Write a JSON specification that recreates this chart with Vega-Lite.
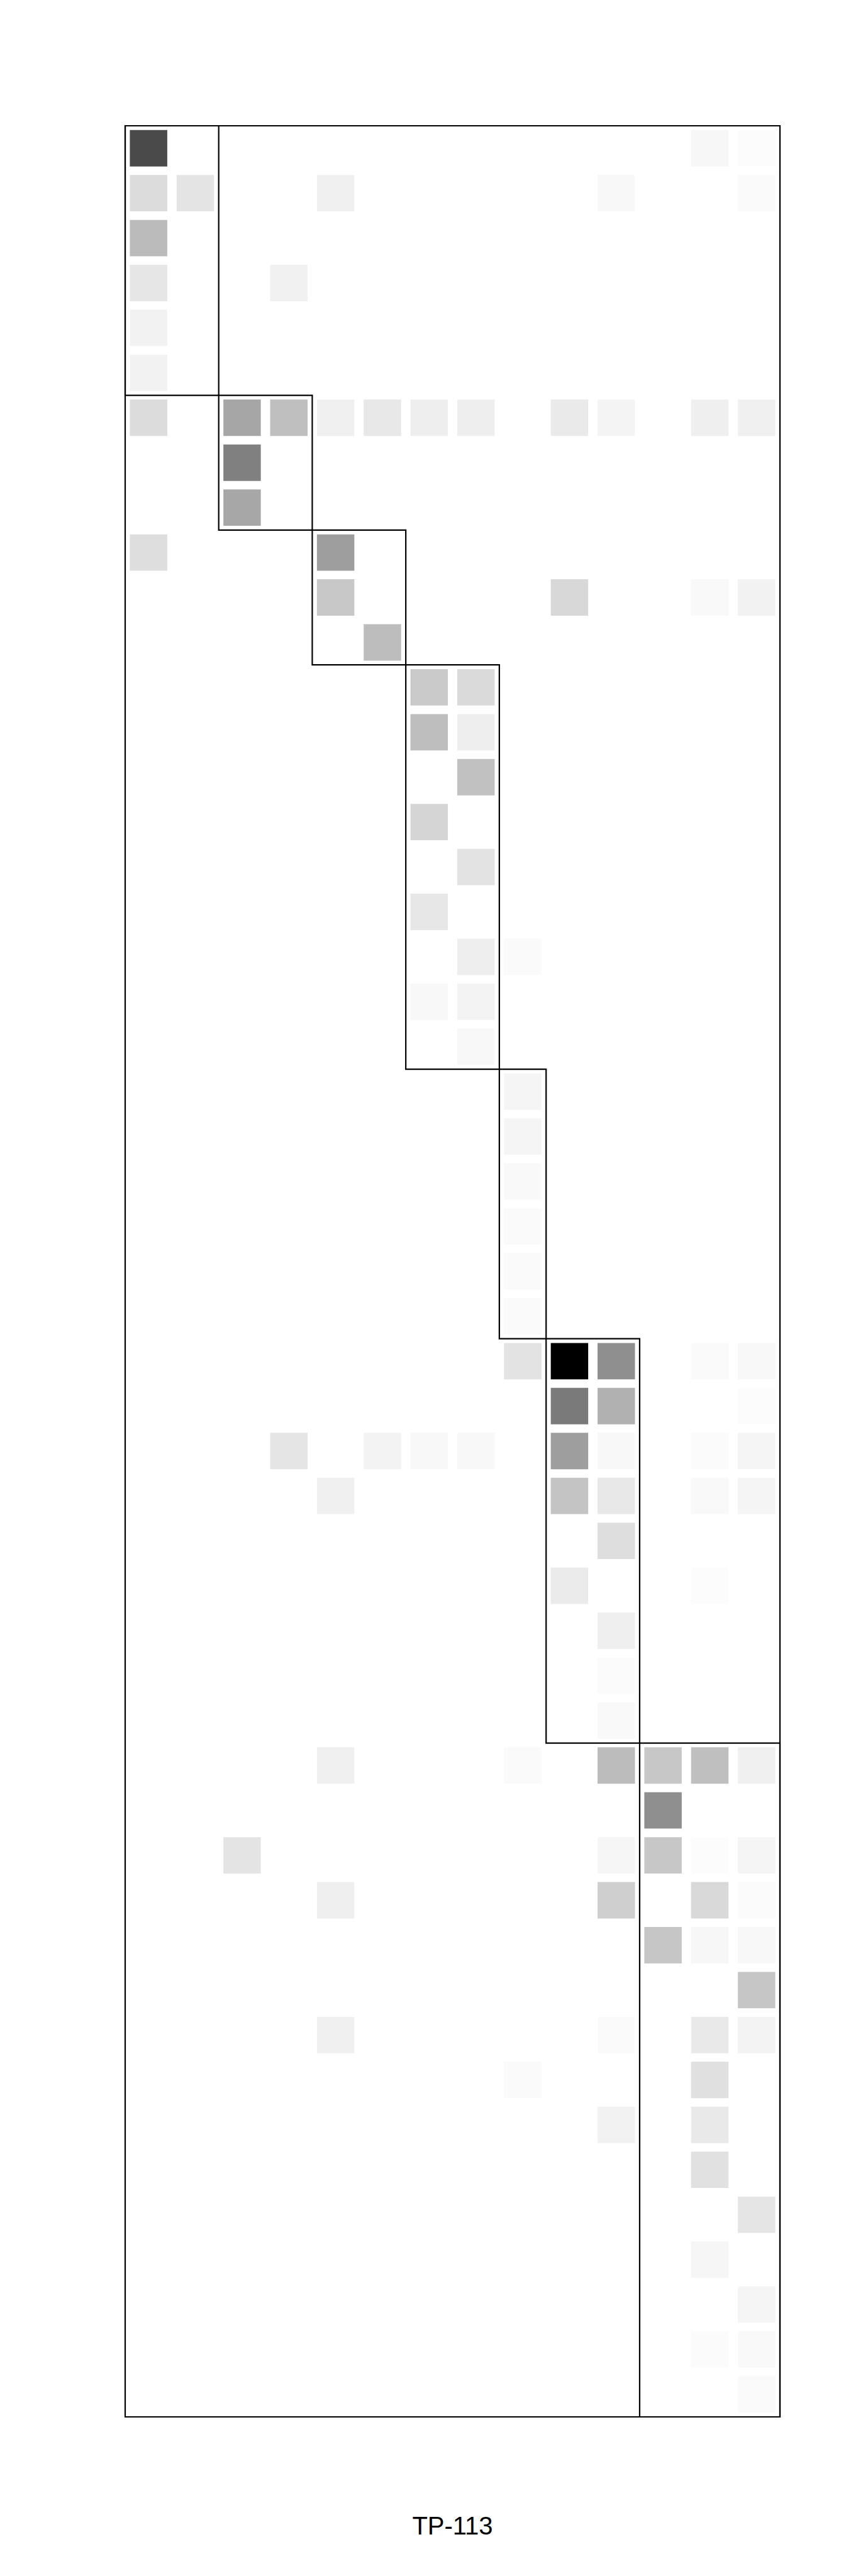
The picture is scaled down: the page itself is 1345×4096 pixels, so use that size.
{
  "$schema": "https://vega.github.io/schema/vega-lite/v6.json",
  "width": 1041,
  "height": 3643,
  "autosize": "none",
  "padding": {"left": 199, "top": 200, "right": 105, "bottom": 253},
  "background": "white",
  "title": {"text": "TP-113", "orient": "bottom", "anchor": "middle", "font": "Liberation Sans", "fontSize": 40, "fontWeight": "normal", "color": "black", "baseline": "alphabetic", "offset": 186},
  "config": {"view": {"stroke": "black", "strokeWidth": 2.2}},
  "resolve": {"scale": {"x": "independent", "y": "independent"}},
  "layer": [
    {
      "data": {"values": [
        {"r":0,"c":0,"v":0.710},{"r":0,"c":12,"v":0.031},{"r":0,"c":13,"v":0.012},
        {"r":1,"c":0,"v":0.137},{"r":1,"c":1,"v":0.106},{"r":1,"c":4,"v":0.059},{"r":1,"c":10,"v":0.027},{"r":1,"c":13,"v":0.020},
        {"r":2,"c":0,"v":0.267},
        {"r":3,"c":0,"v":0.098},{"r":3,"c":3,"v":0.055},
        {"r":4,"c":0,"v":0.051},
        {"r":5,"c":0,"v":0.051},
        {"r":6,"c":0,"v":0.137},{"r":6,"c":2,"v":0.349},{"r":6,"c":3,"v":0.251},{"r":6,"c":4,"v":0.059},{"r":6,"c":5,"v":0.090},{"r":6,"c":6,"v":0.067},{"r":6,"c":7,"v":0.067},{"r":6,"c":9,"v":0.082},{"r":6,"c":10,"v":0.043},{"r":6,"c":12,"v":0.063},{"r":6,"c":13,"v":0.059},
        {"r":7,"c":2,"v":0.498},
        {"r":8,"c":2,"v":0.345},
        {"r":9,"c":0,"v":0.129},{"r":9,"c":4,"v":0.380},
        {"r":10,"c":4,"v":0.216},{"r":10,"c":9,"v":0.153},{"r":10,"c":12,"v":0.024},{"r":10,"c":13,"v":0.051},
        {"r":11,"c":5,"v":0.259},
        {"r":12,"c":6,"v":0.208},{"r":12,"c":7,"v":0.145},
        {"r":13,"c":6,"v":0.255},{"r":13,"c":7,"v":0.067},
        {"r":14,"c":7,"v":0.243},
        {"r":15,"c":6,"v":0.165},
        {"r":16,"c":7,"v":0.110},
        {"r":17,"c":6,"v":0.094},
        {"r":18,"c":7,"v":0.067},{"r":18,"c":8,"v":0.020},
        {"r":19,"c":6,"v":0.027},{"r":19,"c":7,"v":0.047},
        {"r":20,"c":7,"v":0.027},
        {"r":21,"c":8,"v":0.039},
        {"r":22,"c":8,"v":0.039},
        {"r":23,"c":8,"v":0.024},
        {"r":24,"c":8,"v":0.020},
        {"r":25,"c":8,"v":0.020},
        {"r":26,"c":8,"v":0.020},
        {"r":27,"c":8,"v":0.110},{"r":27,"c":9,"v":1.0},{"r":27,"c":10,"v":0.439},{"r":27,"c":12,"v":0.020},{"r":27,"c":13,"v":0.027},
        {"r":28,"c":9,"v":0.522},{"r":28,"c":10,"v":0.306},{"r":28,"c":13,"v":0.012},
        {"r":29,"c":3,"v":0.102},{"r":29,"c":5,"v":0.047},{"r":29,"c":6,"v":0.027},{"r":29,"c":7,"v":0.027},{"r":29,"c":9,"v":0.380},{"r":29,"c":10,"v":0.027},{"r":29,"c":12,"v":0.016},{"r":29,"c":13,"v":0.039},
        {"r":30,"c":4,"v":0.059},{"r":30,"c":9,"v":0.231},{"r":30,"c":10,"v":0.090},{"r":30,"c":12,"v":0.024},{"r":30,"c":13,"v":0.039},
        {"r":31,"c":10,"v":0.129},
        {"r":32,"c":9,"v":0.078},{"r":32,"c":12,"v":0.012},
        {"r":33,"c":10,"v":0.063},
        {"r":34,"c":10,"v":0.016},
        {"r":35,"c":10,"v":0.024},
        {"r":36,"c":4,"v":0.059},{"r":36,"c":8,"v":0.020},{"r":36,"c":10,"v":0.263},{"r":36,"c":11,"v":0.220},{"r":36,"c":12,"v":0.251},{"r":36,"c":13,"v":0.059},
        {"r":37,"c":11,"v":0.439},
        {"r":38,"c":2,"v":0.106},{"r":38,"c":10,"v":0.035},{"r":38,"c":11,"v":0.220},{"r":38,"c":12,"v":0.012},{"r":38,"c":13,"v":0.039},
        {"r":39,"c":4,"v":0.063},{"r":39,"c":10,"v":0.188},{"r":39,"c":12,"v":0.149},{"r":39,"c":13,"v":0.016},
        {"r":40,"c":11,"v":0.224},{"r":40,"c":12,"v":0.031},{"r":40,"c":13,"v":0.027},
        {"r":41,"c":13,"v":0.224},
        {"r":42,"c":4,"v":0.059},{"r":42,"c":10,"v":0.020},{"r":42,"c":12,"v":0.086},{"r":42,"c":13,"v":0.047},
        {"r":43,"c":8,"v":0.020},{"r":43,"c":12,"v":0.122},
        {"r":44,"c":10,"v":0.051},{"r":44,"c":12,"v":0.086},
        {"r":45,"c":12,"v":0.118},
        {"r":46,"c":13,"v":0.102},
        {"r":47,"c":12,"v":0.035},
        {"r":48,"c":13,"v":0.039},
        {"r":49,"c":12,"v":0.016},{"r":49,"c":13,"v":0.024},
        {"r":50,"c":13,"v":0.020}
      ]},
      "mark": {"type": "rect"},
      "encoding": {
        "x": {"field": "c", "type": "ordinal", "axis": null,
              "scale": {"domain": [0,1,2,3,4,5,6,7,8,9,10,11,12,13], "paddingInner": 0.2, "paddingOuter": 0.1}},
        "y": {"field": "r", "type": "ordinal", "axis": null,
              "scale": {"domain": [0,1,2,3,4,5,6,7,8,9,10,11,12,13,14,15,16,17,18,19,20,21,22,23,24,25,26,27,28,29,30,31,32,33,34,35,36,37,38,39,40,41,42,43,44,45,46,47,48,49,50], "paddingInner": 0.19, "paddingOuter": 0.095}},
        "color": {"field": "v", "type": "quantitative", "legend": null,
                  "scale": {"domain": [0, 1], "range": ["#ffffff", "#000000"], "interpolate": "rgb"}}
      }
    },
    {
      "data": {"values": [
        {"x0": 0, "x1": 2, "y0": 0, "y1": 6},
        {"x0": 2, "x1": 4, "y0": 6, "y1": 9},
        {"x0": 4, "x1": 6, "y0": 9, "y1": 12},
        {"x0": 6, "x1": 8, "y0": 12, "y1": 21},
        {"x0": 8, "x1": 9, "y0": 21, "y1": 27},
        {"x0": 9, "x1": 11, "y0": 27, "y1": 36},
        {"x0": 11, "x1": 14, "y0": 36, "y1": 51}
      ]},
      "mark": {"type": "rect", "filled": false, "stroke": "black", "strokeWidth": 2.2},
      "encoding": {
        "x": {"field": "x0", "type": "quantitative", "axis": null, "scale": {"domain": [0, 14], "nice": false, "zero": false}},
        "x2": {"field": "x1"},
        "y": {"field": "y0", "type": "quantitative", "axis": null, "scale": {"domain": [0, 51], "nice": false, "zero": false, "reverse": true}},
        "y2": {"field": "y1"}
      }
    }
  ]
}
